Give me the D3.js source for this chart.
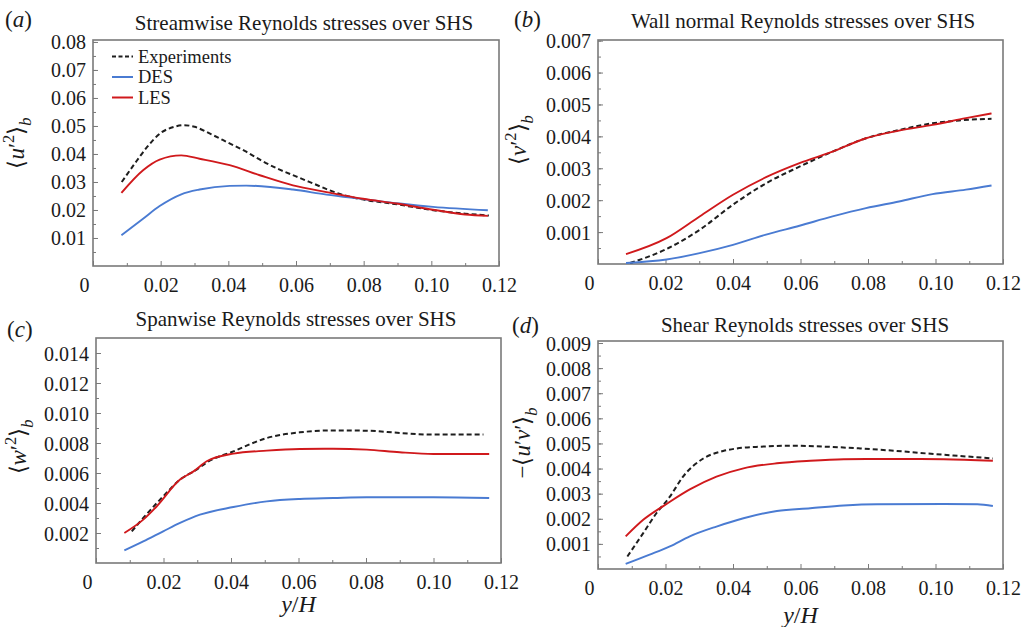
<!DOCTYPE html>
<html>
<head>
<meta charset="utf-8">
<script src="https://cdn.jsdelivr.net/npm/d3@7"></script>
<style>
  body { margin: 0; background: #fff; }
  text { font-family: "Liberation Serif", "Times New Roman", serif; fill: #1a1a1a; }
</style>
</head>
<body>
<div id="chart"></div>
<script>
// ---- data ----
const xTicks = [0, 0.02, 0.04, 0.06, 0.08, 0.10, 0.12];
const xTickLabels = ["0", "0.02", "0.04", "0.06", "0.08", "0.10", "0.12"];
const seriesNames = ["Experiments", "DES", "LES"];

// (a) streamwise <u'^2>_b
const aTicks = [0.01, 0.02, 0.03, 0.04, 0.05, 0.06, 0.07, 0.08];
const aExp = [[0.0085, 0.030], [0.012, 0.036], [0.016, 0.0425], [0.020, 0.0475], [0.024, 0.0497], [0.027, 0.0503],
  [0.030, 0.0497], [0.035, 0.047], [0.040, 0.044], [0.045, 0.041], [0.050, 0.0375], [0.055, 0.0345], [0.060, 0.032],
  [0.065, 0.0295], [0.070, 0.027], [0.075, 0.025], [0.080, 0.0237], [0.090, 0.022], [0.100, 0.020], [0.110, 0.0187], [0.117, 0.018]];
const aDes = [[0.0084, 0.011], [0.0148, 0.0169], [0.0197, 0.0214], [0.0261, 0.0256], [0.0315, 0.0273], [0.0404, 0.0286],
  [0.0453, 0.0287], [0.0591, 0.0273], [0.069, 0.0255], [0.0798, 0.0239], [0.0906, 0.0223], [0.1005, 0.0211], [0.1167, 0.0199]];
const aLes = [[0.0084, 0.0261], [0.0148, 0.0342], [0.0197, 0.038], [0.0261, 0.0395], [0.0315, 0.0383], [0.0404, 0.036],
  [0.0493, 0.0324], [0.0591, 0.0288], [0.069, 0.0264], [0.0798, 0.024], [0.0897, 0.0223], [0.1005, 0.0201], [0.110, 0.0184], [0.1167, 0.0179]];

// (b) wall normal <v'^2>_b
const bTicks = [0.001, 0.002, 0.003, 0.004, 0.005, 0.006, 0.007];
const bExp = [[0.0095, 0.00003], [0.0203, 0.00047], [0.0301, 0.00107], [0.040, 0.00186], [0.0498, 0.00253], [0.0597, 0.00305],
  [0.0695, 0.00352], [0.0794, 0.00394], [0.0892, 0.0042], [0.0991, 0.00441], [0.107, 0.0045], [0.1166, 0.00455]];
const bDes = [[0.0083, 0.00003], [0.0203, 0.00014], [0.0301, 0.00034], [0.040, 0.0006], [0.0498, 0.00092], [0.0597, 0.0012],
  [0.0695, 0.00149], [0.0794, 0.00175], [0.0892, 0.00196], [0.0991, 0.00219], [0.109, 0.00233], [0.1166, 0.00246]];
const bLes = [[0.0083, 0.00031], [0.0203, 0.00081], [0.0301, 0.00149], [0.040, 0.00217], [0.0498, 0.00272], [0.0597, 0.00316],
  [0.0695, 0.00352], [0.0794, 0.00394], [0.0892, 0.00418], [0.0991, 0.00436], [0.109, 0.00457], [0.1166, 0.00472]];

// (c) spanwise <w'^2>_b
const cTicks = [0.002, 0.004, 0.006, 0.008, 0.010, 0.012, 0.014];
const cExp = [[0.0106, 0.00211], [0.014, 0.0030], [0.0199, 0.00444], [0.0249, 0.00556], [0.0298, 0.00622], [0.0328, 0.0067],
  [0.0407, 0.00744], [0.0506, 0.00833], [0.0604, 0.00871], [0.0703, 0.00884], [0.0802, 0.00882], [0.090, 0.00867], [0.100, 0.00856], [0.1148, 0.00856]];
const cDes = [[0.0084, 0.00084], [0.014, 0.00144], [0.0199, 0.00211], [0.0249, 0.00267], [0.0308, 0.00322], [0.0407, 0.00373],
  [0.0506, 0.00411], [0.0604, 0.00427], [0.0703, 0.00433], [0.0802, 0.00438], [0.100, 0.00438], [0.1165, 0.00433]];
const cLes = [[0.0084, 0.0020], [0.014, 0.00289], [0.018, 0.00378], [0.0249, 0.00556], [0.0289, 0.00611], [0.0328, 0.00678],
  [0.0407, 0.00729], [0.0506, 0.00749], [0.0604, 0.0076], [0.0703, 0.00762], [0.0802, 0.00756], [0.090, 0.00738], [0.100, 0.00727], [0.1165, 0.00727]];

// (d) shear -<u'v'>_b
const dTicks = [0.001, 0.002, 0.003, 0.004, 0.005, 0.006, 0.007, 0.008, 0.009];
const dExp = [[0.0087, 0.0005], [0.0134, 0.00143], [0.0173, 0.00222], [0.0213, 0.00288], [0.0252, 0.00368], [0.0312, 0.0044],
  [0.0371, 0.0047], [0.0411, 0.0048], [0.048, 0.00487], [0.0579, 0.00491], [0.0678, 0.00487], [0.0777, 0.0048],
  [0.0876, 0.00471], [0.0975, 0.0046], [0.1074, 0.0045], [0.117, 0.0044]];
const dDes = [[0.0082, 0.0002], [0.0153, 0.00057], [0.0213, 0.0009], [0.0272, 0.0013], [0.0351, 0.00169], [0.0431, 0.00202],
  [0.053, 0.00231], [0.0629, 0.00242], [0.0728, 0.00253], [0.0827, 0.00258], [0.1025, 0.00259], [0.1124, 0.00258], [0.117, 0.00251]];
const dLes = [[0.0082, 0.0013], [0.0134, 0.00196], [0.0203, 0.00259], [0.0272, 0.00317], [0.0351, 0.00368], [0.0431, 0.00401],
  [0.053, 0.00421], [0.0629, 0.00431], [0.0728, 0.00437], [0.0827, 0.00438], [0.0926, 0.00438], [0.1025, 0.00437], [0.117, 0.00431]];

// ---- layout ----
const width = 1026, height = 627;
const serif = "Liberation Serif, Times New Roman, serif";
const colors = { Experiments: "#1e1e1e", DES: "#4a7bd2", LES: "#d0191c" };

const panels = [
  { tag: "a", title: "Streamwise Reynolds stresses over SHS", titleX: 304, titleY: 30, tagX: 5, tagY: 27,
    box: [93, 40, 499, 266], yMax: 0.0807, ticks: aTicks, minor: 0.005, fmt: ".2f",
    series: [aExp, aDes, aLes], label: [["⟨"], ["u", "i"], ["′"], ["2", "sup"], ["⟩"], ["b", "sub"]], labelX: 24, labelY: 143,
    legend: true },
  { tag: "b", title: "Wall normal Reynolds stresses over SHS", titleX: 803, titleY: 28, tagX: 514, tagY: 27,
    box: [598, 40, 1003, 264], yMax: 0.00702, ticks: bTicks, minor: 0.0005, fmt: ".3f",
    series: [bExp, bDes, bLes], label: [["⟨"], ["v", "i"], ["′"], ["2", "sup"], ["⟩"], ["b", "sub"]], labelX: 526, labelY: 140 },
  { tag: "c", title: "Spanwise Reynolds stresses over SHS", titleX: 296, titleY: 326, tagX: 7, tagY: 337,
    box: [96, 338, 501, 563], yMax: 0.015, ticks: cTicks, minor: 0.001, fmt: ".3f",
    series: [cExp, cDes, cLes], label: [["⟨"], ["w", "i"], ["′"], ["2", "sup"], ["⟩"], ["b", "sub"]], labelX: 26, labelY: 447,
    xLabelY: 612 },
  { tag: "d", title: "Shear Reynolds stresses over SHS", titleX: 805, titleY: 332, tagX: 512, tagY: 333,
    box: [598, 341, 1003, 569], yMax: 0.00908, ticks: dTicks, minor: 0.0005, fmt: ".3f",
    series: [dExp, dDes, dLes], label: [["−⟨"], ["u", "i"], ["′"], ["v", "i"], ["′"], ["⟩"], ["b", "sub"]], labelX: 530, labelY: 443,
    xLabelY: 623 }
];

const svg = d3.select("#chart").append("svg")
  .attr("width", width)
  .attr("height", height)
  .attr("font-family", serif);

// builds italic / superscript / subscript pieces of a math label
function mathText(sel, parts, size) {
  let shift = 0;
  parts.forEach(([t, kind]) => {
    const ts = sel.append("tspan").text(t);
    let target = 0;
    if (kind === "sup") target = -size * 0.42;
    if (kind === "sub") target = size * 0.3;
    ts.attr("dy", target - shift);
    shift = target;
    if (kind === "i" || kind === "sub") ts.style("font-style", "italic");
    if (kind === "sup" || kind === "sub") ts.attr("font-size", size * 0.72);
  });
}

panels.forEach(p => {
  const [x0, y0, x1, y1] = p.box;
  const x = d3.scaleLinear().domain([0, 0.12]).range([x0, x1]);
  const y = d3.scaleLinear().domain([0, p.yMax]).range([y1, y0]);
  const g = svg.append("g");

  // minor ticks (inward)
  const xMinor = d3.range(0.01, 0.12, 0.02);
  g.append("g")
    .attr("transform", `translate(0,${y1})`)
    .call(d3.axisBottom(x).tickValues(xMinor).tickSize(-3).tickFormat(""))
    .call(s => s.select(".domain").remove())
    .call(s => s.selectAll("line").attr("stroke", "#7a7a7a"));
  const yMinor = d3.range(p.minor, p.yMax, p.minor);
  g.append("g")
    .attr("transform", `translate(${x0},0)`)
    .call(d3.axisLeft(y).tickValues(yMinor).tickSize(-3).tickFormat(""))
    .call(s => s.select(".domain").remove())
    .call(s => s.selectAll("line").attr("stroke", "#7a7a7a"));

  // x axis
  const xAxis = g.append("g")
    .attr("transform", `translate(0,${y1})`)
    .call(d3.axisBottom(x).tickValues(xTicks).tickSize(-5).tickPadding(9)
      .tickFormat((d, i) => xTickLabels[i]))
    .attr("font-family", serif)
    .attr("font-size", 20);
  xAxis.select(".domain").remove();
  xAxis.selectAll("line").attr("stroke", "#7a7a7a");
  xAxis.selectAll("text").attr("fill", "#1a1a1a")
    .attr("y", 12)
    .filter(d => d === 0).attr("text-anchor", "end").attr("x", -4);

  // y axis
  const yAxis = g.append("g")
    .attr("transform", `translate(${x0},0)`)
    .call(d3.axisLeft(y).tickValues(p.ticks).tickSize(-5).tickPadding(7).tickFormat(d3.format(p.fmt)))
    .attr("font-family", serif)
    .attr("font-size", 20);
  yAxis.select(".domain").remove();
  yAxis.selectAll("line").attr("stroke", "#7a7a7a");
  yAxis.selectAll("text").attr("fill", "#1a1a1a").attr("dy", "0.35em");

  // frame
  g.append("rect")
    .attr("x", x0).attr("y", y0)
    .attr("width", x1 - x0).attr("height", y1 - y0)
    .attr("fill", "none")
    .attr("stroke", "#7a7a7a")
    .attr("stroke-width", 1.6);

  // curves
  const line = d3.line()
    .x(d => x(d[0]))
    .y(d => y(d[1]))
    .curve(d3.curveMonotoneX);
  p.series.forEach((s, i) => {
    const name = seriesNames[i];
    g.append("path")
      .datum(s)
      .attr("d", line)
      .attr("fill", "none")
      .attr("stroke", colors[name])
      .attr("stroke-width", name === "Experiments" ? 2 : 1.9)
      .attr("stroke-dasharray", name === "Experiments" ? "5,3" : null);
  });

  // title and panel tag
  g.append("text")
    .attr("x", p.titleX).attr("y", p.titleY)
    .attr("text-anchor", "middle")
    .attr("font-size", 21)
    .text(p.title);
  const tag = g.append("text")
    .attr("x", p.tagX).attr("y", p.tagY)
    .attr("font-size", 23);
  mathText(tag, [["("], [p.tag, "i"], [")"]], 23);

  // y label
  const yl = g.append("text")
    .attr("transform", `translate(${p.labelX},${p.labelY}) rotate(-90)`)
    .attr("text-anchor", "middle")
    .attr("font-size", 23);
  mathText(yl, p.label, 23);

  // x label
  if (p.xLabelY) {
    const xl = g.append("text")
      .attr("x", (x0 + x1) / 2).attr("y", p.xLabelY)
      .attr("text-anchor", "middle")
      .attr("font-size", 24);
    mathText(xl, [["y", "i"], ["/"], ["H", "i"]], 24);
  }

  // legend (panel a only)
  if (p.legend) {
    const legY = [56.5, 77, 97.5];
    seriesNames.forEach((name, i) => {
      g.append("line")
        .attr("x1", 112).attr("x2", 133)
        .attr("y1", legY[i]).attr("y2", legY[i])
        .attr("stroke", colors[name])
        .attr("stroke-width", 2)
        .attr("stroke-dasharray", name === "Experiments" ? "4,2.5" : null);
      g.append("text")
        .attr("x", 138).attr("y", legY[i] + 6)
        .attr("font-size", 18.5)
        .text(name);
    });
  }
});
</script>
</body>
</html>
